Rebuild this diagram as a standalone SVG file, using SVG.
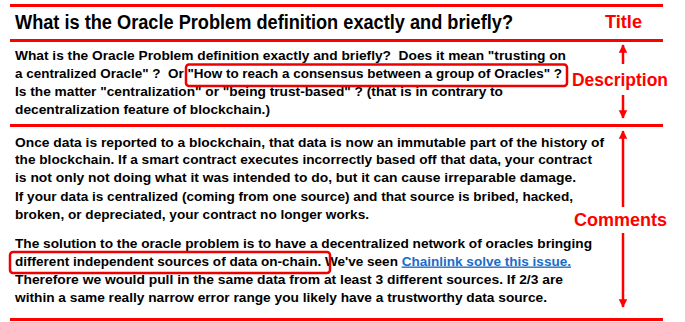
<svg xmlns="http://www.w3.org/2000/svg" width="685" height="322" viewBox="0 0 685 322">
<style>
.rule{stroke:#ff0000;stroke-width:3;fill:none}
.box{stroke:#ee0000;stroke-width:2.5;fill:none}
.arr{stroke:#ff0000;stroke-width:2.5;fill:none}
.title{font-family:"Liberation Sans",Arial,sans-serif;font-weight:bold;font-size:19.5px;fill:#000}
.body{font-family:"Liberation Sans",Arial,sans-serif;font-weight:bold;font-size:13.6px;fill:#000}
.lab{font-family:"Liberation Sans",Arial,sans-serif;font-weight:bold;font-size:18px;fill:#ff0000}
.link{fill:#1a6cc8;text-decoration:underline}
</style>
<defs>
<marker id="ah" viewBox="0 0 10 10" refX="9" refY="5" markerWidth="3.8" markerHeight="3.4" orient="auto-start-reverse" markerUnits="strokeWidth">
<path d="M0,0 L10,5 L0,10 z" fill="#ff0000"/>
</marker>
</defs>
<rect width="685" height="322" fill="#ffffff"/>
<g id="rules">
<line class="rule" x1="10" y1="5.5" x2="663" y2="5.5"/>
<line class="rule" x1="10" y1="40.5" x2="663" y2="40.5"/>
<line class="rule" x1="10" y1="125.5" x2="663" y2="125.5"/>
<line class="rule" x1="10" y1="319.5" x2="663" y2="319.5"/>
</g>
<g id="title">
<text class="title" x="15" y="29" textLength="498" lengthAdjust="spacingAndGlyphs">What is the Oracle Problem definition exactly and briefly?</text>
</g>
<g id="description">
<text class="body" x="15" y="59.5" textLength="551" lengthAdjust="spacingAndGlyphs" xml:space="preserve">What is the Oracle Problem definition exactly and briefly?  Does it mean "trusting on</text>
<text class="body" x="15" y="77.5" textLength="547" lengthAdjust="spacingAndGlyphs" xml:space="preserve">a centralized Oracle" ?  Or "How to reach a consensus between a group of Oracles" ?</text>
<text class="body" x="15" y="95.5" textLength="488" lengthAdjust="spacingAndGlyphs">Is the matter "centralization" or "being trust-based" ? (that is in contrary to</text>
<text class="body" x="15" y="113.5" textLength="255" lengthAdjust="spacingAndGlyphs">decentralization feature of blockchain.)</text>
<rect class="box" x="186" y="64.5" width="381" height="21.5" rx="3"/>
</g>
<g id="comments">
<text class="body" x="15" y="146.5" textLength="589" lengthAdjust="spacingAndGlyphs">Once data is reported to a blockchain, that data is now an immutable part of the history of</text>
<text class="body" x="15" y="164" textLength="577" lengthAdjust="spacingAndGlyphs">the blockchain. If a smart contract executes incorrectly based off that data, your contract</text>
<text class="body" x="15" y="181.5" textLength="561" lengthAdjust="spacingAndGlyphs">is not only not doing what it was intended to do, but it can cause irreparable damage.</text>
<text class="body" x="15" y="201" textLength="558" lengthAdjust="spacingAndGlyphs">If your data is centralized (coming from one source) and that source is bribed, hacked,</text>
<text class="body" x="15" y="218.5" textLength="354" lengthAdjust="spacingAndGlyphs">broken, or depreciated, your contract no longer works.</text>
<text class="body" x="15" y="247.5" textLength="577" lengthAdjust="spacingAndGlyphs">The solution to the oracle problem is to have a decentralized network of oracles bringing</text>
<text class="body" x="15" y="265.5" textLength="556" lengthAdjust="spacingAndGlyphs">different independent sources of data on-chain. We've seen <tspan class="link">Chainlink solve this issue.</tspan></text>
<text class="body" x="15" y="284" textLength="548" lengthAdjust="spacingAndGlyphs">Therefore we would pull in the same data from at least 3 different sources. If 2/3 are</text>
<text class="body" x="15" y="302" textLength="532" lengthAdjust="spacingAndGlyphs">within a same really narrow error range you likely have a trustworthy data source.</text>
<rect class="box" x="10" y="252" width="320" height="21" rx="3"/>
</g>
<g id="labels">
<text class="lab" x="605" y="28" textLength="37" lengthAdjust="spacingAndGlyphs">Title</text>
<text class="lab" x="572" y="86" textLength="96" lengthAdjust="spacingAndGlyphs">Description</text>
<text class="lab" x="574" y="226" textLength="93" lengthAdjust="spacingAndGlyphs">Comments</text>
</g>
<g id="connectors">
<line class="arr" x1="623" y1="64" x2="623" y2="45" marker-end="url(#ah)"/>
<line class="arr" x1="623" y1="95" x2="623" y2="118" marker-end="url(#ah)"/>
<line class="arr" x1="623" y1="207" x2="623" y2="131" marker-end="url(#ah)"/>
<line class="arr" x1="623" y1="233" x2="623" y2="307" marker-end="url(#ah)"/>
</g>
</svg>
